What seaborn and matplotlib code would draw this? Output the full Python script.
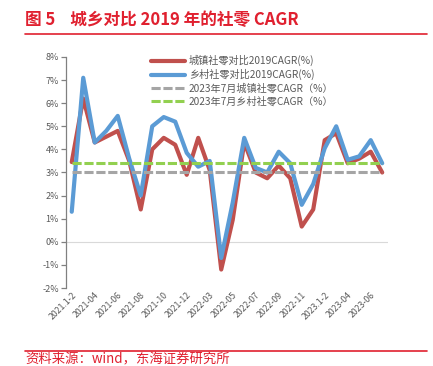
import numpy as np
import pandas as pd
import matplotlib
matplotlib.use('Agg')
import matplotlib.pyplot as plt
import seaborn as sns

sns.set_theme(style="white")
plt.rcParams['font.family'] = ['Noto Sans CJK SC', 'DejaVu Sans']
plt.rcParams['axes.unicode_minus'] = False

# monthly points, Jan-Feb merged each year
months = ['2021.1-2', '2021-03', '2021-04', '2021-05', '2021-06', '2021-07', '2021-08',
          '2021-09', '2021-10', '2021-11', '2021-12',
          '2022.1-2', '2022-03', '2022-04', '2022-05', '2022-06', '2022-07', '2022-08',
          '2022-09', '2022-10', '2022-11', '2022-12',
          '2023.1-2', '2023-03', '2023-04', '2023-05', '2023-06', '2023-07']
urban = [3.45, 6.2, 4.3, 4.55, 4.8, 3.5, 1.4, 4.0, 4.5, 4.2, 2.9,
         4.5, 3.1, -1.2, 0.95, 4.3, 3.0, 2.75, 3.3, 2.75, 0.66,
         1.4, 4.4, 4.7, 3.4, 3.6, 3.9, 3.0]
rural = [1.3, 7.1, 4.3, 4.8, 5.45, 3.6, 2.0, 5.0, 5.4, 5.2, 3.85,
         3.25, 3.5, -0.7, 1.7, 4.5, 3.2, 3.0, 3.9, 3.4, 1.6,
         2.5, 4.05, 5.0, 3.55, 3.7, 4.4, 3.4]
urban_jul23 = 3.0
rural_jul23 = 3.4

labels = ['城镇社零对比2019CAGR(%)', '乡村社零对比2019CAGR(%)',
          '2023年7月城镇社零CAGR（%）', '2023年7月乡村社零CAGR（%）']
colors = ['#C0504D', '#5B9BD5', '#A5A5A5', '#92D050']

df = pd.DataFrame({'idx': np.arange(len(months)), 'urban': urban, 'rural': rural})
df['urban_ref'] = urban_jul23
df['rural_ref'] = rural_jul23

fig = plt.figure(figsize=(4.33, 3.66), dpi=100)
ax = fig.add_axes([0.1524, 0.2131, 0.7436, 0.6312])

sns.lineplot(data=df, x='idx', y='urban', ax=ax, color=colors[0], lw=3.0,
             label=labels[0], solid_capstyle='round', solid_joinstyle='round')
sns.lineplot(data=df, x='idx', y='rural', ax=ax, color=colors[1], lw=3.0,
             label=labels[1], solid_capstyle='round', solid_joinstyle='round')
dash = (0, (3.0, 0.9))
sns.lineplot(data=df, x='idx', y='urban_ref', ax=ax, color=colors[2], lw=2.2,
             label=labels[2], linestyle=dash)
sns.lineplot(data=df, x='idx', y='rural_ref', ax=ax, color=colors[3], lw=2.2,
             label=labels[3], linestyle=dash)

ax.axhline(0, color='#D9D9D9', lw=0.8, zorder=0)

ax.set_xlim(-0.5, 27.5)
ax.set_ylim(-2, 8)
ax.set_yticks(range(-2, 9))
ax.set_yticklabels([f'{v}%' for v in range(-2, 9)])
ticks = list(range(0, len(months), 2))
ax.set_xticks(ticks)
ax.set_xticklabels([months[i] for i in ticks], rotation=45, ha='right',
                   rotation_mode='anchor')
ax.set_xlabel('')
ax.set_ylabel('')

for s in ['top', 'right', 'bottom']:
    ax.spines[s].set_visible(False)
ax.spines['left'].set_color('#808080')
ax.spines['left'].set_linewidth(0.9)
ax.tick_params(axis='y', length=3.5, width=0.9, color='#808080', left=True,
               labelsize=6.5, labelcolor='#595959', pad=1.5)
ax.tick_params(axis='x', length=0, labelsize=6.3, labelcolor='#595959', pad=2)
ax.grid(False)

leg = ax.legend(loc='upper left', bbox_to_anchor=(151 / 433, 1 - 55 / 366),
                bbox_transform=fig.transFigure, frameon=False, fontsize=7.3,
                handlelength=3.4, handletextpad=0.35, labelspacing=0.28,
                borderpad=0, borderaxespad=0)
for t in leg.get_texts():
    t.set_color('#595959')

# title, rules and source
fig.text(25 / 433, 1 - 20 / 366, '图 5    城乡对比 2019 年的社零 CAGR', color='#E0202F',
         fontsize=12, fontweight='bold', ha='left', va='center')
fig.add_artist(plt.Line2D([25 / 433, 427 / 433], [1 - 33.5 / 366] * 2,
                          color='#E0202F', lw=1.2))
fig.add_artist(plt.Line2D([25 / 433, 427 / 433], [1 - 350.5 / 366] * 2,
                          color='#E0202F', lw=1.2))
fig.text(25 / 433, 1 - 352.5 / 366, '资料来源：wind，东海证券研究所', color='#E0202F',
         fontsize=9.6, ha='left', va='top')

fig.savefig('out.png', dpi=100)
